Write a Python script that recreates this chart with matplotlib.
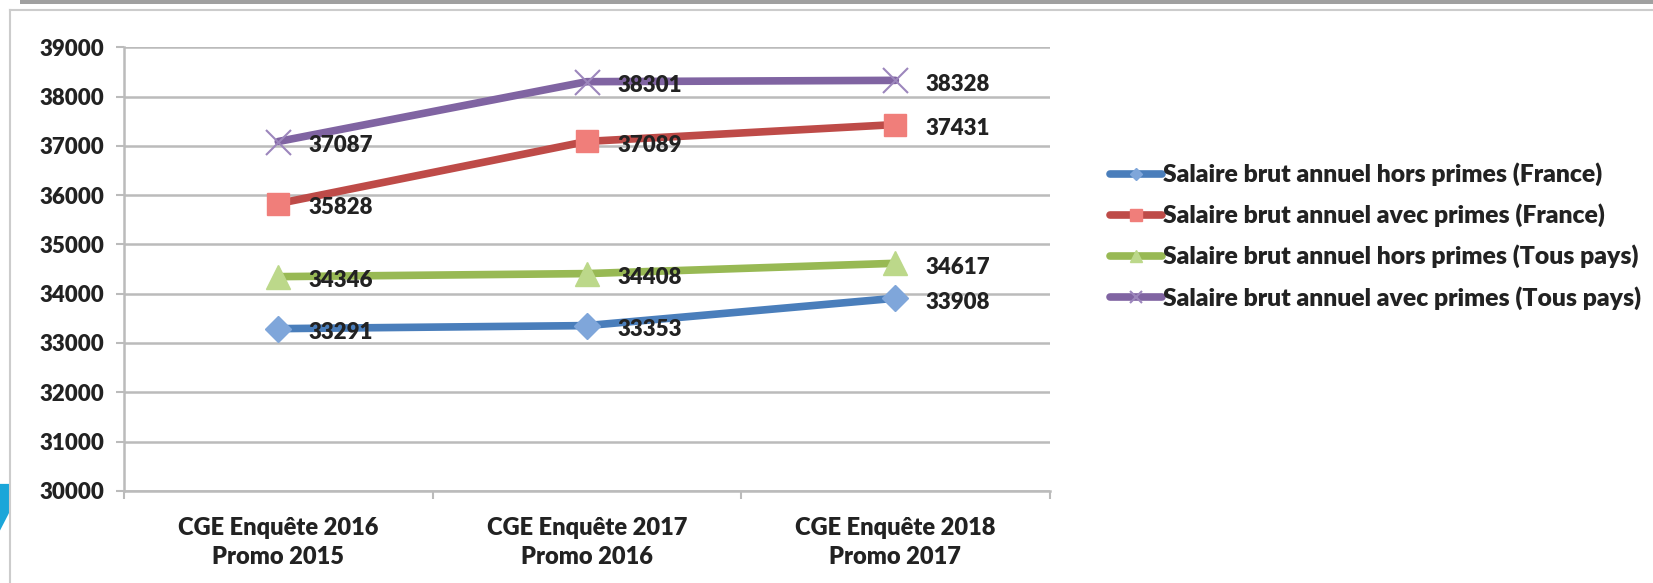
import matplotlib.pyplot as plt
import matplotlib.patches as mpatches
import numpy as np

plt.rcParams['font.family'] = ['Lato', 'DejaVu Sans']
plt.rcParams['font.weight'] = 'bold'

# Data
categories = ["CGE Enquête 2016\nPromo 2015", "CGE Enquête 2017\nPromo 2016", "CGE Enquête 2018\nPromo 2017"]
hors_france = [33291, 33353, 33908]
avec_france = [35828, 37089, 37431]
hors_tous = [34346, 34408, 34617]
avec_tous = [37087, 38301, 38328]
series_names = ["Salaire brut annuel hors primes (France)",
                "Salaire brut annuel avec primes (France)",
                "Salaire brut annuel hors primes (Tous pays)",
                "Salaire brut annuel avec primes (Tous pays)"]
yticks = np.arange(30000, 39001, 1000)

fig = plt.figure(figsize=(16.53, 5.83), dpi=100)
ax = fig.add_axes([0.075, 0.158, 0.560, 0.761])

x = np.arange(len(categories))
styles = [
    (hors_france, '#4A7EBB', 'D', '#7FA6DA', 13),
    (avec_france, '#BE4B48', 's', '#F07E7A', 16),
    (hors_tous, '#98B954', '^', '#BCD88A', 17),
    (avec_tous, '#8064A2', 'x', '#9C86BC', 18),
]
for (vals, col, mk, face, ms), name in zip(styles, series_names):
    ax.plot(x, vals, color=col, lw=5.5, marker=mk, ms=ms, mfc=face, mec=face,
            mew=1.5 if mk == 'x' else 1, label=name, zorder=3, solid_capstyle='round')
    for xi, v in zip(x, vals):
        ax.annotate(str(v), (xi, v), xytext=(22, -3), textcoords='offset points',
                    ha='left', va='center', fontsize=16, fontweight='heavy',
                    color='#222222', zorder=4)

ax.set_xlim(-0.5, 2.5)
ax.set_ylim(30000, 39000)
ax.set_yticks(yticks)
ax.set_yticklabels([str(v) for v in yticks], fontsize=16, fontweight='heavy', color='#222222')
ax.set_xticks(x)
ax.set_xticklabels(categories, fontsize=17, fontweight='heavy', color='#222222', linespacing=1.4)
ax.set_xticks([-0.5, 0.5, 1.5, 2.5], minor=True)
ax.tick_params(axis='x', which='major', length=0, pad=19)
ax.tick_params(axis='x', which='minor', length=6, color='#BBBBBB', width=1.5)
ax.tick_params(axis='y', length=6, color='#BBBBBB', width=1.5, pad=8)
ax.grid(axis='y', color='#BBBBBB', lw=1.8, zorder=0)
for s in ['top', 'right']:
    ax.spines[s].set_visible(False)
for s in ['left', 'bottom']:
    ax.spines[s].set_color('#BBBBBB')
    ax.spines[s].set_linewidth(1.8)

leg = fig.legend(loc='upper left', bbox_to_anchor=(0.664, 0.742), frameon=False,
                 prop={'size': 17.8, 'weight': 'heavy'}, handlelength=2.1, handletextpad=0.05,
                 labelspacing=0.7, borderpad=0, markerscale=0.5)
for t in leg.get_texts():
    t.set_color('#222222')

# slide frame
fig.add_artist(mpatches.Rectangle((20 / 1653, 1 - 4 / 583), 1, 4 / 583,
                                  transform=fig.transFigure, color='#A0A0A0', lw=0))
fig.add_artist(plt.Line2D([10 / 1653, 1], [1 - 10 / 583] * 2, transform=fig.transFigure,
                          color='#CCCCCC', lw=1.5))
fig.add_artist(plt.Line2D([10 / 1653] * 2, [0, 1 - 10 / 583], transform=fig.transFigure,
                          color='#CCCCCC', lw=1.5))
fig.add_artist(mpatches.Polygon([(0, 0.17), (9 / 1653, 0.17), (9 / 1653, 0.12), (0, 0.09)],
                                transform=fig.transFigure, color='#1BA6D9', lw=0))

fig.savefig('out.png', dpi=100, facecolor='white')
